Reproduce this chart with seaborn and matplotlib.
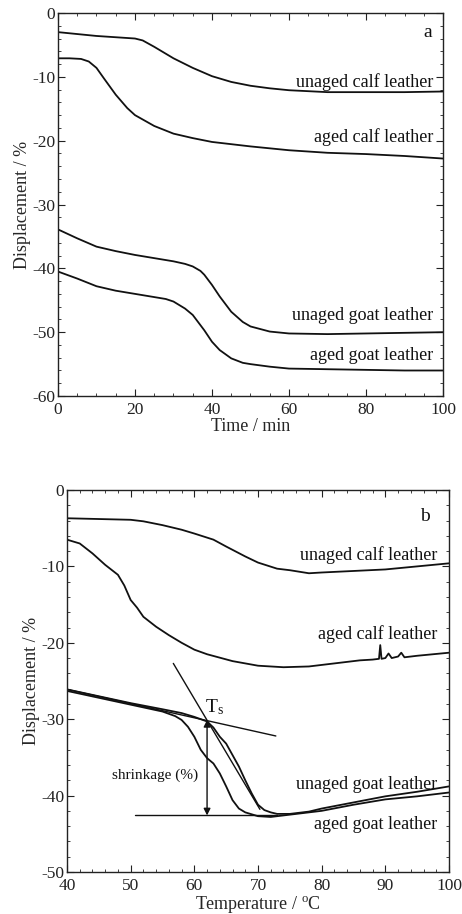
import matplotlib
matplotlib.use("Agg")
import matplotlib.pyplot as plt
import seaborn as sns
import numpy as np
import pandas as pd
from matplotlib.ticker import MultipleLocator

# ---------------- data: panel a (time) ----------------
t_unaged_calf = [0, 5, 10, 15, 20, 22, 25, 30, 35, 40, 45, 50, 55, 60, 70, 80, 90, 100]
d_unaged_calf = [-3.0, -3.3, -3.6, -3.8, -4.0, -4.3, -5.3, -7.1, -8.6, -9.9, -10.8, -11.4, -11.8, -12.1, -12.4, -12.4, -12.4, -12.3]

t_aged_calf = [0, 3, 6, 8, 10, 12, 15, 18, 20, 25, 30, 35, 40, 50, 60, 70, 80, 90, 100]
d_aged_calf = [-7.1, -7.1, -7.2, -7.6, -8.6, -10.3, -12.8, -14.9, -16.0, -17.7, -18.9, -19.6, -20.2, -20.9, -21.5, -21.9, -22.1, -22.4, -22.8]

t_unaged_goat = [0, 5, 10, 15, 20, 25, 30, 33, 35, 37, 38, 40, 42, 45, 48, 50, 55, 60, 70, 80, 90, 100]
d_unaged_goat = [-33.9, -35.3, -36.6, -37.3, -37.9, -38.4, -38.9, -39.3, -39.7, -40.4, -41.0, -42.6, -44.4, -46.8, -48.4, -49.1, -49.9, -50.2, -50.3, -50.2, -50.1, -50.0]

t_aged_goat = [0, 5, 10, 15, 20, 25, 28, 30, 33, 35, 38, 40, 42, 45, 48, 50, 55, 60, 70, 80, 90, 100]
d_aged_goat = [-40.5, -41.6, -42.8, -43.5, -44.0, -44.5, -44.8, -45.2, -46.3, -47.3, -49.7, -51.5, -52.8, -54.1, -54.8, -55.0, -55.4, -55.7, -55.8, -55.9, -56.0, -56.0]

labels_a = ["unaged calf leather", "aged calf leather", "unaged goat leather", "aged goat leather"]
label_a_y = [-10.8, -19.4, -47.4, -53.6]

# ---------------- data: panel b (temperature) ----------------
T_unaged_calf = [40, 45, 50, 52, 55, 58, 60, 63, 65, 68, 70, 73, 75, 78, 80, 85, 90, 95, 100]
D_unaged_calf = [-3.7, -3.8, -3.9, -4.1, -4.6, -5.2, -5.7, -6.5, -7.4, -8.7, -9.5, -10.3, -10.5, -10.9, -10.8, -10.6, -10.4, -10.0, -9.6]

T_aged_calf = [40, 42, 44, 46, 48, 49, 50, 51, 52, 54, 56, 58, 60, 62, 66, 70, 74, 78, 80, 82, 84, 86, 88, 89, 89.2, 89.4, 90, 90.5, 91, 92, 92.5, 93, 95, 100]
D_aged_calf = [-6.5, -7.0, -8.3, -9.8, -11.1, -12.5, -14.4, -15.4, -16.6, -17.9, -19.0, -20.0, -20.9, -21.5, -22.4, -23.0, -23.2, -23.1, -22.9, -22.7, -22.5, -22.3, -22.2, -22.1, -20.3, -22.1, -22.0, -21.4, -22.0, -21.8, -21.3, -21.9, -21.7, -21.3]

T_unaged_goat = [40, 45, 50, 55, 58, 60, 62, 63, 64, 65, 66, 67, 68, 69, 70, 71, 72, 73, 75, 78, 80, 85, 90, 95, 100]
D_unaged_goat = [-26.1, -27.0, -27.9, -28.7, -29.2, -29.7, -30.3, -31.1, -32.3, -33.2, -34.7, -36.2, -38.0, -39.7, -41.2, -41.9, -42.2, -42.4, -42.4, -42.1, -41.7, -40.9, -40.1, -39.5, -38.8]

T_aged_goat = [40, 45, 50, 55, 57, 58, 59, 60, 61, 62, 63, 64, 65, 66, 67, 68, 70, 72, 75, 80, 85, 90, 95, 100]
D_aged_goat = [-26.3, -27.2, -28.1, -29.0, -29.6, -30.1, -31.0, -32.3, -34.0, -35.1, -35.8, -37.1, -38.8, -40.6, -41.7, -42.2, -42.7, -42.8, -42.5, -42.0, -41.2, -40.5, -40.1, -39.6]

labels_b = ["unaged calf leather", "aged calf leather", "unaged goat leather", "aged goat leather"]
label_b_y = [-8.5, -18.8, -38.5, -43.8]

# construction lines for Ts
tangent1_x = [40, 72.8]
tangent1_y = [-26.1, -32.2]
tangent2_x = [56.7, 70.3]
tangent2_y = [-22.7, -41.8]
baseline_x = [50.7, 73.0]
baseline_y = [-42.6, -42.6]
arrow_x = 62.0
arrow_top = -30.1
arrow_bottom = -42.6

# ---------------- style ----------------
sns.set_style("ticks")
plt.rcParams['font.family'] = ['Liberation Serif', 'DejaVu Serif']
plt.rcParams['mathtext.fontset'] = 'custom'
plt.rcParams['mathtext.rm'] = 'Liberation Serif'
plt.rcParams['mathtext.it'] = 'Liberation Serif:italic'
plt.rcParams['axes.unicode_minus'] = False

FS = 13
TFS = 12.5
fig = plt.figure(figsize=(4.62, 9.14), dpi=100)
ax1 = fig.add_axes([0.1255, 0.5667, 0.8334, 0.4191])
ax2 = fig.add_axes([0.1450, 0.0460, 0.8269, 0.4179])

def style_axes(ax, xmaj, xmin, ymaj, ymin):
    ax.xaxis.set_major_locator(MultipleLocator(xmaj))
    ax.xaxis.set_minor_locator(MultipleLocator(xmin))
    ax.yaxis.set_major_locator(MultipleLocator(ymaj))
    ax.yaxis.set_minor_locator(MultipleLocator(ymin))
    ax.tick_params(which='both', direction='in', top=True, right=True, colors='#222222',
                   labelsize=TFS)
    ax.tick_params(axis='x', which='both', pad=4)
    ax.tick_params(axis='y', which='both', pad=2)
    ax.tick_params(which='major', length=5, width=0.8)
    ax.tick_params(which='minor', length=2.5, width=0.6)
    for s in ax.spines.values():
        s.set_linewidth(1.0)
        s.set_color('#222222')

LW = 1.3
def curve(ax, x, y):
    sns.lineplot(x=x, y=y, ax=ax, color='#111111', linewidth=LW, estimator=None, sort=False)

# panel a
curve(ax1, t_unaged_calf, d_unaged_calf)
curve(ax1, t_aged_calf, d_aged_calf)
curve(ax1, t_unaged_goat, d_unaged_goat)
curve(ax1, t_aged_goat, d_aged_goat)
style_axes(ax1, 20, 5, 10, 2)
ax1.set_xlim(0, 100)
ax1.set_ylim(-60, 0)
ax1.set_xlabel("Time / min", fontsize=FS, labelpad=0)
ax1.set_ylabel("Displacement / %", fontsize=FS, labelpad=1)
for lab, yy in zip(labels_a, label_a_y):
    ax1.text(97.5, yy, lab, ha='right', va='center', fontsize=FS, color='#111111')
ax1.text(96, -3.1, "a", ha='center', va='center', fontsize=FS + 1, color='#111111')

# panel b
curve(ax2, T_unaged_calf, D_unaged_calf)
curve(ax2, T_aged_calf, D_aged_calf)
curve(ax2, T_unaged_goat, D_unaged_goat)
curve(ax2, T_aged_goat, D_aged_goat)
ax2.plot(tangent1_x, tangent1_y, color='#111111', linewidth=1.0)
ax2.plot(tangent2_x, tangent2_y, color='#111111', linewidth=1.0)
ax2.plot(baseline_x, baseline_y, color='#111111', linewidth=1.0)
ax2.annotate("", xy=(arrow_x, arrow_top), xytext=(arrow_x, arrow_bottom),
             arrowprops=dict(arrowstyle='<|-|>', color='#111111', lw=1.0,
                             mutation_scale=10, shrinkA=0, shrinkB=0))
ax2.text(61.6, -28.4, r"T$_\mathrm{s}$", ha='left', va='center', fontsize=FS + 1, color='#111111')
ax2.text(53.8, -37.4, "shrinkage (%)", ha='center', va='center', fontsize=FS - 2, color='#111111')
style_axes(ax2, 10, 2, 10, 2)
ax2.set_xlim(40, 100)
ax2.set_ylim(-50, 0)
ax2.set_xlabel(r"Temperature / $^\mathrm{o}$C", fontsize=FS, labelpad=0)
ax2.set_ylabel("Displacement / %", fontsize=FS, labelpad=1)
for lab, yy in zip(labels_b, label_b_y):
    ax2.text(98.2, yy, lab, ha='right', va='center', fontsize=FS, color='#111111')
ax2.text(96.2, -3.5, "b", ha='center', va='center', fontsize=FS + 1, color='#111111')

fig.savefig("out.png", dpi=100)
